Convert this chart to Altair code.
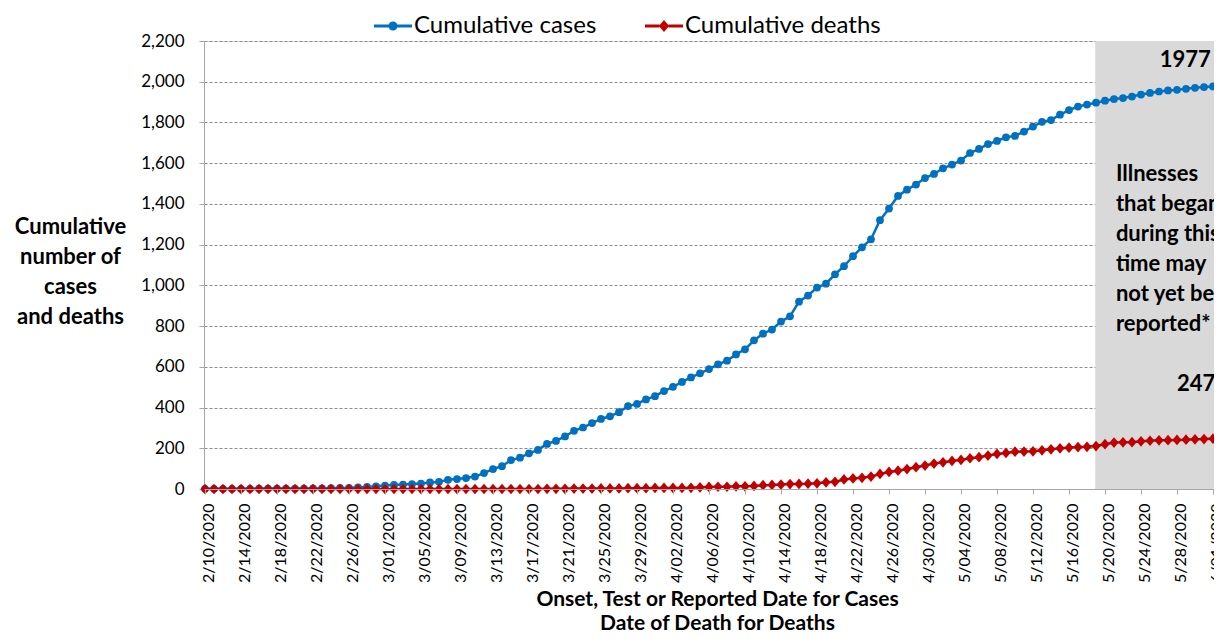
import altair as alt
import pandas as pd

# ---------------- data ----------------
dates = pd.date_range("2020-02-10", "2020-06-01", freq="D")

cases = [
    1, 1, 1, 1, 1, 1, 2, 2, 2, 2, 2, 2, 3, 3, 4, 5, 6, 8, 10, 13,
    17, 20, 22, 24, 27, 32, 35, 45, 49, 54,
    61, 78, 98, 112, 142, 154, 175, 192, 221, 236,
    258, 286, 302, 324, 344, 357, 377, 407, 418, 440,
    456, 481, 502, 526, 548, 568, 589, 612, 630, 661,
    686, 730, 763, 783, 822, 848, 920, 950, 989, 1008,
    1054, 1094, 1143, 1187, 1226, 1320, 1377, 1439, 1470, 1495,
    1527, 1547, 1575, 1593, 1613, 1650, 1670, 1694, 1709, 1727,
    1734, 1755, 1780, 1803, 1812, 1838, 1861, 1878, 1888, 1897,
    1907, 1915, 1920, 1927, 1937, 1945, 1952, 1957, 1960, 1965,
    1970, 1974, 1977,
]

deaths = [0] * 38 + [
    1, 1, 1, 2, 2, 2, 3, 3, 3, 4, 4, 4, 5, 5, 5,
    5, 6, 8, 10, 11, 11, 13, 13, 15, 19,
    20, 22, 24, 25, 26, 28, 33, 35, 47, 52,
    55, 61, 74, 84, 90, 98, 107, 115, 125, 131,
    138, 143, 151, 156, 164, 172, 177, 183, 184, 185,
    190, 195, 200, 203, 206, 207, 211, 220, 228, 229,
    230, 234, 237, 239, 240, 241, 242, 244, 245, 247,
]

series_names = ["Cumulative cases", "Cumulative deaths"]
series_colors = ["#0070C0", "#C00000"]

tick_dates = pd.date_range("2020-02-10", "2020-06-01", freq="4D")
y_ticks = list(range(0, 2201, 200))

domain_start = pd.Timestamp("2020-02-09T21:20:00")
domain_end = pd.Timestamp("2020-06-01T02:40:00")
shade_start = pd.Timestamp("2020-05-18T22:00:00")

ann_text = ["1977", "247"]
ann_date = [pd.Timestamp("2020-05-28T22:00:00"), pd.Timestamp("2020-05-30T03:00:00")]
ann_value = [2107, 516]

note_lines = ["Illnesses", "that began", "during this", "time may", "not yet be", "reported*"]
note_date = [pd.Timestamp("2020-05-21T05:00:00")]
note_value = [1595]

x_title = ["Onset, Test or Reported Date for Cases", "Date of Death for Deaths"]
y_title = ["Cumulative", "number of", "cases", "and deaths"]


def dt(ts):
    return alt.DateTime(year=ts.year, month=ts.month, date=ts.day,
                        hours=ts.hour, minutes=ts.minute)


# ---------------- tables ----------------
cases_df = pd.DataFrame({"date": dates, "value": cases})
deaths_df = pd.DataFrame({"date": dates, "value": deaths})
shade_df = pd.DataFrame({"start": [shade_start], "end": [domain_end], "y0": [0], "y1": [2200]})
ann_df = pd.DataFrame({"date": ann_date, "value": ann_value, "label": ann_text})
note_df = pd.DataFrame({"date": note_date, "value": note_value})
legend_df = pd.DataFrame({"series": series_names})

FONT = "Lato"

x_scale = alt.Scale(domain=[dt(domain_start), dt(domain_end)])
y_scale = alt.Scale(domain=[0, 2200], nice=False)

x_axis = alt.Axis(
    values=[dt(t) for t in tick_dates],
    tickCount=60,
    format="%-m/%d/%Y",
    labelAngle=270,
    labelFont=FONT,
    labelFontSize=16,
    labelColor="#000000",
    labelPadding=9,
    labelOffset=3,
    labelOverlap=False,
    labelBound=False,
    tickSize=5,
    tickColor="#a6a6a6",
    domainColor="#a6a6a6",
    grid=False,
    zindex=1,
    title=x_title,
    titleFont=FONT,
    titleFontSize=21,
    titleFontWeight="bold",
    titleColor="#000000",
    titleX=513,
    titleY=116,
    titleAlign="center",
    titleBaseline="alphabetic",
    titleLineHeight=24,
)

y_axis = alt.Axis(
    values=y_ticks,
    format=",.0f",
    grid=True,
    gridDash=[3, 2],
    gridColor="#8c8c8c",
    gridWidth=1,
    domainColor="#a6a6a6",
    tickColor="#a6a6a6",
    tickSize=5,
    labelPadding=15,
    labelFont=FONT,
    labelFontSize=17,
    labelColor="#000000",
    title=y_title,
    titleAngle=0,
    titleAlign="center",
    titleBaseline="top",
    titleX=-134,
    titleY=175,
    titleLineHeight=30,
    titleFont=FONT,
    titleFontSize=22,
    titleFontWeight="bold",
    titleColor="#000000",
)

shade = alt.Chart(shade_df).mark_rect(color="#d9d9d9").encode(
    x=alt.X("start:T", scale=x_scale, axis=x_axis),
    x2="end:T",
    y=alt.Y("y0:Q", scale=y_scale, axis=y_axis),
    y2="y1:Q",
)

cases_line = alt.Chart(cases_df).mark_line(color=series_colors[0], strokeWidth=2.5).encode(
    x=alt.X("date:T"), y=alt.Y("value:Q")
)
cases_pts = alt.Chart(cases_df).mark_point(
    shape="circle", filled=True, size=60, color=series_colors[0], opacity=1
).encode(x="date:T", y="value:Q")

diamond_path = "M0,-1L0.85,0L0,1L-0.85,0Z"
deaths_line = alt.Chart(deaths_df).mark_line(color=series_colors[1], strokeWidth=2.5).encode(
    x=alt.X("date:T"), y=alt.Y("value:Q")
)
deaths_pts = alt.Chart(deaths_df).mark_point(
    shape=diamond_path, filled=True, size=115, color=series_colors[1], opacity=1
).encode(x="date:T", y="value:Q")

legend_circle = ("M-1,-0.08L-0.22,-0.08L-0.22,0.08L-1,0.08Z "
                 "M0.22,-0.08L1,-0.08L1,0.08L0.22,0.08Z "
                 "M-0.24,0A0.24,0.24 0 1 1 0.24,0A0.24,0.24 0 1 1 -0.24,0Z")
legend_diamond = ("M-1,-0.08L-0.24,-0.08L-0.24,0.08L-1,0.08Z "
                  "M0.24,-0.08L1,-0.08L1,0.08L0.24,0.08Z "
                  "M0,-0.32L0.27,0L0,0.32L-0.27,0Z")

legend_def = alt.Legend(
    title=None,
    orient="none",
    legendX=170,
    legendY=-34,
    direction="horizontal",
    labelFont=FONT,
    labelFontSize=24,
    labelColor="#000000",
    labelOffset=2,
    columnPadding=48,
    symbolSize=1444,
    symbolStrokeWidth=0,
    labelLimit=400,
)

legend_layer = alt.Chart(legend_df).transform_filter("false").mark_point(
    filled=True, opacity=1
).encode(
    color=alt.Color("series:N", scale=alt.Scale(domain=series_names, range=series_colors),
                    legend=legend_def),
    shape=alt.Shape("series:N", scale=alt.Scale(domain=series_names,
                                                range=[legend_circle, legend_diamond]),
                    legend=legend_def),
)

ann = alt.Chart(ann_df).mark_text(
    font=FONT, fontSize=22, fontWeight="bold", color="#000000", align="center", baseline="middle"
).encode(x="date:T", y="value:Q", text="label:N")

note = alt.Chart(note_df).mark_text(
    text=note_lines, font=FONT, fontSize=22, fontWeight="bold", color="#000000",
    align="left", baseline="top", lineHeight=30,
).encode(x="date:T", y="value:Q")

chart = alt.layer(
    shade, cases_line, cases_pts, deaths_line, deaths_pts, ann, note, legend_layer
).properties(
    width=1010,
    height=448,
    autosize=alt.AutoSizeParams(type="none"),
    padding={"left": 196, "top": 33, "right": 0, "bottom": 142},
).configure_view(stroke=None).configure(background="#ffffff")

chart.save("out.html", embed_options={"renderer": "svg", "actions": False})
